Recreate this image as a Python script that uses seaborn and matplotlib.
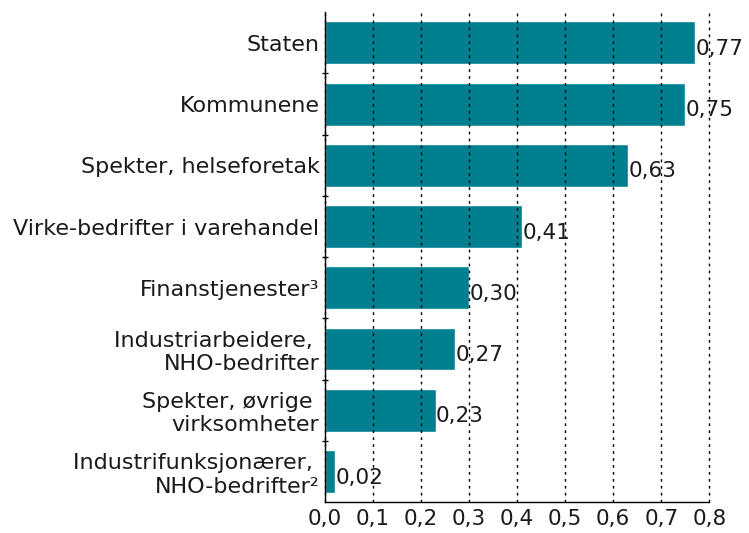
import numpy as np
import pandas as pd
import matplotlib
matplotlib.use('Agg')
import matplotlib.pyplot as plt
import seaborn as sns
from matplotlib.ticker import FuncFormatter, FixedLocator

# Data
categories = ['Staten', 'Kommunene', 'Spekter, helseforetak',
              'Virke-bedrifter i varehandel', 'Finanstjenester³',
              'Industriarbeidere, \nNHO-bedrifter', 'Spekter, øvrige \nvirksomheter',
              'Industrifunksjonærer, \nNHO-bedrifter²']
values = [0.77, 0.75, 0.63, 0.41, 0.30, 0.27, 0.23, 0.02]
x_ticks = [0.0, 0.1, 0.2, 0.3, 0.4, 0.5, 0.6, 0.7, 0.8]

df = pd.DataFrame({'category': categories, 'value': values})

sns.set_style('white')
plt.rcParams['font.family'] = ['DejaVu Sans']

fig = plt.figure(figsize=(7.49, 5.33), dpi=100)
ax = fig.add_axes([0.434, 0.058, 0.513, 0.919])

sns.barplot(data=df, x='value', y='category', orient='h', color='#007F90',
            saturation=1, width=0.7, ax=ax)

# Value labels
for i, v in enumerate(values):
    ax.text(v + 0.001, i + 0.1, f'{v:.2f}'.replace('.', ','), va='center', ha='left',
            fontsize=15.5, color='#1a1a1a', clip_on=False)

ax.set_xlim(0, 0.8)
ax.set_ylim(len(categories) - 0.5, -0.5)
ax.set_xticks(x_ticks)
ax.xaxis.set_major_formatter(FuncFormatter(lambda x, p: f'{x:.1f}'.replace('.', ',')))
ax.set_xlabel('')
ax.set_ylabel('')
ax.tick_params(axis='x', labelsize=15.5, length=0, pad=5, colors='#1a1a1a')
ax.tick_params(axis='y', labelsize=16, length=0, pad=4, colors='#1a1a1a')
ax.yaxis.set_minor_locator(FixedLocator(np.arange(0.5, len(categories) - 0.5, 1)))
ax.tick_params(axis='y', which='minor', left=True, length=4, width=1,
               direction='inout', color='black')

# Grid
ax.set_axisbelow(False)
ax.xaxis.grid(True, linestyle=(0, (2, 3)), color='black', linewidth=1)
for gl in ax.get_xgridlines():
    gl.set_clip_on(False)
ax.yaxis.grid(False)

for s in ['top', 'right']:
    ax.spines[s].set_visible(False)
for s in ['left', 'bottom']:
    ax.spines[s].set_color('black')
    ax.spines[s].set_linewidth(1)

fig.savefig('out.png', dpi=100)
